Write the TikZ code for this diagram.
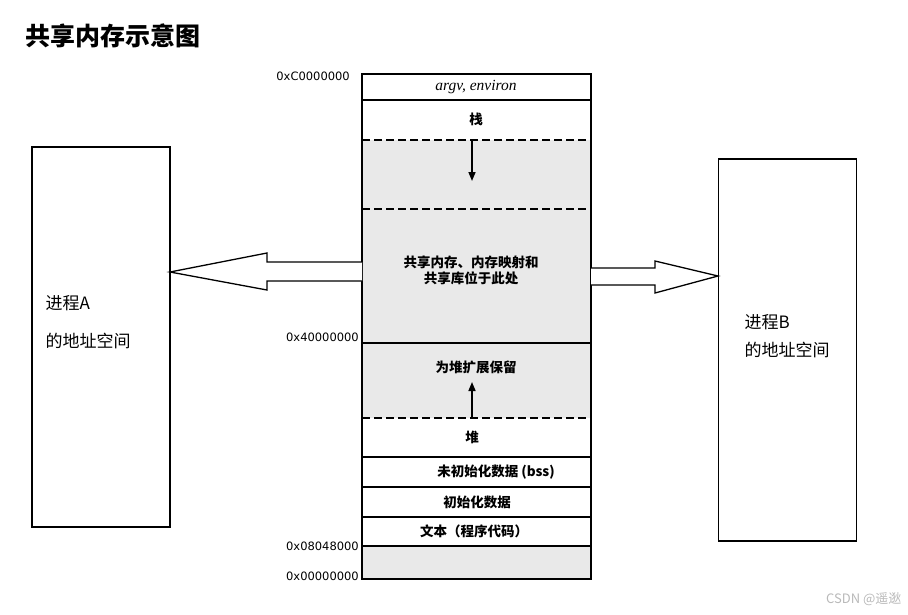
\documentclass[tikz,border=0pt]{standalone}
\usepackage{fontspec}
\setmainfont{Liberation Serif}
\newfontfamily\cjk{Noto Sans CJK SC}
\newfontfamily\hexfont{DejaVu Sans}
\usetikzlibrary{arrows.meta,positioning}

\tikzset{
  segline/.style={line width=1.4pt},
  gapline/.style={line width=1.6pt, dash pattern=on 8pt off 4pt},
  seglabel/.style={font=\cjk\bfseries\fontsize{13.5}{16}\selectfont},
  addr/.style={anchor=east, inner sep=0pt, font=\hexfont\fontsize{11.5}{13}\selectfont},
  proctext/.style={anchor=west, font=\cjk\fontsize{17}{19}\selectfont},
  procbox/.style={draw, line width=1.4pt, minimum width=138pt},
  growarrow/.style={line width=1.6pt, -{Triangle[length=9pt,width=7pt]}},
  fatarrow/.style={draw, line width=1.3pt, fill=white, line join=miter}
}

\begin{document}
\begin{tikzpicture}[x=1pt, y=-1pt]
    \useasboundingbox (0,0) rectangle (908,614);

    \node[anchor=west, font=\cjk\bfseries\fontsize{25}{28}\selectfont] (title) at (22,36) {共享内存示意图};

    % memory column
    \fill[gray!17] (362,140) rectangle (591,418);
    \fill[gray!17] (362,546) rectangle (591,579);
    \draw[segline] (362,74) rectangle (591,579);
    \draw[segline] (362,100) -- (591,100);
    \draw[gapline] (362,140) -- (591,140);
    \draw[gapline] (362,209) -- (591,209);
    \draw[segline] (362,343) -- (591,343);
    \draw[gapline] (362,418) -- (591,418);
    \draw[segline] (362,457) -- (591,457);
    \draw[segline] (362,487) -- (591,487);
    \draw[segline] (362,517) -- (591,517);
    \draw[segline] (362,546) -- (591,546);

    \node[font=\itshape\fontsize{15.5}{17}\selectfont] (argv) at (476,87) {argv, environ};
    \node[seglabel] (stack) at (476,119) {栈};
    \node[seglabel, align=center] (shared) at (471,270) {共享内存、内存映射和\\共享库位于此处};
    \node[seglabel] (reserve) at (476,367) {为堆扩展保留};
    \node[seglabel] (heap) at (472,437) {堆};
    \node[seglabel] (bss) at (496,472) {未初始化数据 (bss)};
    \node[seglabel] (data) at (477,502) {初始化数据};
    \node[seglabel] (text) at (474,531) {文本（程序代码）};

    \coordinate (stacktop) at (472,140);
    \coordinate (stackend) at (472,181);
    \coordinate (heaptop) at (472,418);
    \coordinate (heapend) at (472,382);
    \draw[growarrow] (stacktop) -- (stackend);
    \draw[growarrow] (heaptop) -- (heapend);

    \node[addr] (ac) at (350,76) {0xC0000000};
    \node[addr] (a4) at (359,337) {0x40000000};
    \node[addr] (a8) at (359,546) {0x08048000};
    \node[addr] (a0) at (359,576) {0x00000000};

    % process boxes
    \node[procbox, minimum height=380pt] (procA) at (101,337) {};
    \node[procbox, minimum height=382pt] (procB) at (787.5,350) {};
    \node[proctext] (nameA) at (42,303) {进程A};
    \node[proctext] (spaceA) at (42,341) {的地址空间};
    \node[proctext] (nameB) at (741,322) {进程B};
    \node[proctext] (spaceB) at (741,350) {的地址空间};

    % block arrows
    \draw[fatarrow] (362,262) -- (267,262) -- (267,253) -- (170,272) -- (267,290) -- (267,281) -- (362,281);
    \draw[fatarrow] (591,268) -- (655,268) -- (655,261) -- (718,276) -- (655,293) -- (655,285) -- (591,285);

    \node[anchor=east, text=gray!55, font=\cjk\fontsize{13}{15}\selectfont] (mark) at (905,599) {CSDN @遥逖};
\end{tikzpicture}
\end{document}
